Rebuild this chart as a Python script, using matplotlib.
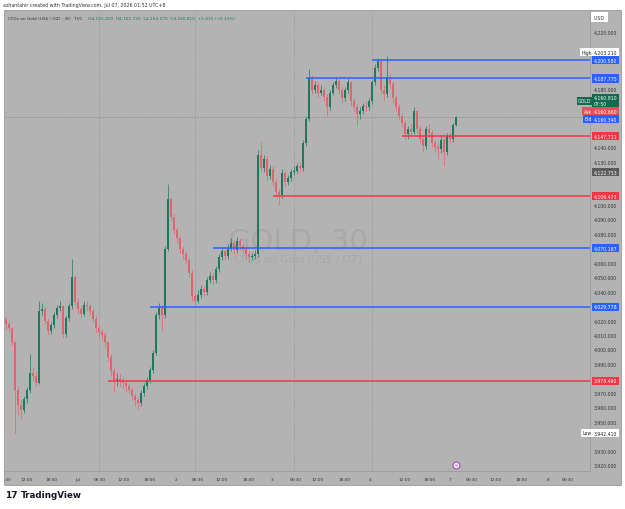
import numpy as np
import matplotlib.pyplot as plt
from matplotlib.patches import Rectangle

# GOLD 30 min candles
first_open = 4021
closes = [4018, 4015, 4005, 3972, 3962, 3958, 3966, 3972, 3984, 3982,
          3977, 4027, 4028, 4020, 4013, 4017, 4024, 4029, 4030, 4011,
          4022, 4030, 4050, 4033, 4028, 4025, 4031, 4030, 4027, 4021,
          4015, 4012, 4010, 4005, 3995, 3985, 3979, 3980, 3978, 3977,
          3975, 3972, 3968, 3965, 3963, 3970, 3975, 3979, 3986, 3998,
          4024, 4029, 4024, 4070, 4104, 4092, 4083, 4077, 4070, 4066,
          4062, 4053, 4037, 4034, 4038, 4042, 4040, 4048, 4051, 4048,
          4056, 4064, 4068, 4065, 4070, 4074, 4069, 4075, 4072, 4070,
          4066, 4064, 4065, 4066, 4135, 4126, 4132, 4120, 4125, 4116,
          4109, 4107, 4122, 4116, 4119, 4123, 4124, 4127, 4126, 4143,
          4160, 4188, 4180, 4183, 4178, 4180, 4175, 4168, 4178, 4183,
          4186, 4180, 4174, 4180, 4185, 4172, 4168, 4163, 4165, 4169,
          4168, 4172, 4185, 4195, 4200, 4180, 4177, 4189, 4184, 4174,
          4168, 4162, 4157, 4149, 4153, 4151, 4165, 4153, 4146, 4141,
          4153, 4150, 4143, 4140, 4139, 4145, 4137, 4148, 4146, 4155.4,
          4160.81]
highs = [4023, 4020, 4016, 4006, 3975, 3966, 3968, 3974, 3997, 3988,
         3985, 4034, 4032, 4030, 4022, 4019, 4026, 4031, 4034, 4031,
         4024, 4032, 4063, 4052, 4036, 4030, 4034, 4034, 4032, 4028,
         4023, 4017, 4014, 4012, 4006, 3997, 3987, 3984, 3983, 3981,
         3979, 3977, 3974, 3970, 3967, 3972, 3977, 3981, 3988, 4000,
         4026, 4032, 4031, 4072, 4115, 4106, 4094, 4085, 4079, 4072,
         4068, 4064, 4055, 4039, 4041, 4045, 4044, 4050, 4054, 4053,
         4058, 4066, 4071, 4070, 4073, 4077, 4076, 4078, 4077, 4074,
         4072, 4068, 4067, 4069, 4138, 4144, 4135, 4134, 4128, 4127,
         4118, 4111, 4125, 4124, 4121, 4125, 4127, 4129, 4130, 4145,
         4162, 4194, 4190, 4186, 4185, 4183, 4182, 4177, 4180, 4185,
         4188, 4188, 4182, 4182, 4188, 4186, 4174, 4170, 4168, 4171,
         4172, 4174, 4187, 4198, 4202, 4201, 4183, 4203.21, 4191, 4186,
         4176, 4170, 4164, 4159, 4155, 4156, 4168, 4166, 4155, 4148,
         4155, 4156, 4152, 4145, 4143, 4148, 4147, 4150, 4151, 4157,
         4161.72]
lows = [4014, 4012, 4003, 3942.41, 3955, 3952, 3956, 3963, 3970, 3978,
        3975, 3976, 4024, 4018, 4010, 4011, 4015, 4022, 4027, 4008,
        4009, 4020, 4028, 4031, 4025, 4022, 4023, 4027, 4024, 4019,
        4012, 4009, 4007, 4002, 3992, 3982, 3971, 3975, 3974, 3973,
        3971, 3969, 3965, 3961, 3959, 3961, 3968, 3973, 3977, 3984,
        3996, 4021, 4013, 4022, 4068, 4089, 4080, 4074, 4067, 4063,
        4059, 4050, 4034, 4031, 4032, 4036, 4037, 4038, 4046, 4045,
        4046, 4054, 4062, 4062, 4063, 4068, 4066, 4067, 4069, 4067,
        4063, 4061, 4062, 4063, 4064, 4123, 4123, 4117, 4118, 4113,
        4106, 4100, 4105, 4113, 4114, 4117, 4121, 4122, 4123, 4124,
        4141, 4158, 4177, 4178, 4175, 4176, 4172, 4162, 4166, 4176,
        4181, 4177, 4171, 4172, 4178, 4169, 4165, 4155, 4160, 4163,
        4165, 4166, 4170, 4183, 4193, 4177, 4172, 4175, 4181, 4171,
        4165, 4159, 4154, 4146, 4146, 4148, 4149, 4150, 4143, 4137,
        4139, 4147, 4140, 4137, 4132, 4136, 4127, 4135, 4143, 4144,
        4154.57]
opens = [first_open] + closes[:-1]

# horizontal levels drawn on the chart
level_prices = [4200.580, 4187.775, 4147.711, 4106.473, 4070.187, 4029.778, 3978.490]
level_start = [122, 100, 132, 89, 69, 48, 34]
level_kind = ['blue', 'blue', 'red', 'red', 'blue', 'blue', 'red']

# time axis
time_labels = [':30', '12:00', '18:00', 'Jul', '06:30', '12:00', '18:00', '2',
               '06:30', '12:00', '18:00', '3', '06:30', '12:00', '18:00', '4',
               '12:00', '18:00', '7', '06:30', '12:00', '18:00', '8', '06:30']
time_pos = [0.7, 7, 15.3, 24, 31.3, 39.3, 48, 56.7, 64, 72, 80.7, 88.7, 96.7,
            104, 112.7, 121.3, 133, 141.3, 148, 155.3, 163.3, 172, 180.7, 187.3]
session_breaks = [31, 63, 96, 122]

price_ticks = np.arange(3920, 4221, 10)
last_price = 4160.81

BG = '#b3b3b3'
UP = '#1b7a5c'
DN = '#e2636d'
BLUE = '#2962ff'
RED = '#f23645'
W, H = 625, 510

plt.rcParams['font.family'] = ['DejaVu Sans']
fig = plt.figure(figsize=(W / 100, H / 100), dpi=100)
fig.patch.set_facecolor('white')

# chart panel background (plot, price scale, time scale)
fig.patches.append(Rectangle((4 / W, 1 - 486 / H), 617 / W, 475 / H,
                             transform=fig.transFigure, fc=BG, ec='#9a9a9a', lw=0.6, zorder=-5))

ax = fig.add_axes([5 / W, 1 - 472 / H, 585 / W, 460 / H])
ax.set_facecolor(BG)
for s in ax.spines.values():
    s.set_visible(False)
for side in ['right', 'bottom']:
    ax.spines[side].set_visible(True)
    ax.spines[side].set_color('#9c9c9c')
    ax.spines[side].set_linewidth(0.6)

ax.set_xlim(-0.33, 194.67)
ax.set_ylim(3916.0, 4234.5)
ax.set_yticks([])
ax.set_xticks([])

# watermark
ax.text(0.5, 0.5, 'GOLD, 30', transform=ax.transAxes, ha='center', va='center',
        fontsize=21, color='#a8a8a8', zorder=1)
ax.text(0.5, 0.462, 'CFDs on Gold (US$ / OZ)', transform=ax.transAxes, ha='center',
        va='center', fontsize=7.5, color='#a8a8a8', zorder=1)

# session breaks and last price line
for b in session_breaks:
    ax.axvline(b, color='#8e8e8e', lw=0.5, ls=(0, (1.5, 2)), zorder=1)
ax.axhline(last_price, color='#7a7a7a', lw=0.5, ls=(0, (1.5, 2)), zorder=1)

# candles
idx = np.arange(len(closes))
o = np.array(opens, dtype=float)
c = np.array(closes, dtype=float)
hi = np.array(highs, dtype=float)
lo = np.array(lows, dtype=float)
colors = np.where(c >= o, UP, DN)
ax.vlines(idx, lo, hi, colors=colors, lw=0.5, zorder=3)
body = np.maximum(np.abs(c - o), 0.6)
ax.bar(idx, body, bottom=np.minimum(o, c), width=0.6, color=colors, lw=0, zorder=4)

# levels
xr = ax.get_xlim()[1]
for p, s, k in zip(level_prices, level_start, level_kind):
    ax.hlines(p, s, xr, color=BLUE if k == 'blue' else RED, lw=1.1, zorder=5)

ytr = ax.get_yaxis_transform()
units_per_pt = (4234.5 - 3916.0) / (460 * 0.72)
tag_spots = []


def tag(price, label, fc, tc='white', dy=0, side=None, side_fc=None, side_tc='white'):
    tag_spots.append(price + dy * units_per_pt)
    ax.annotate(label, xy=(1, price), xycoords=ytr, xytext=(2.6, dy),
                textcoords='offset points', ha='left', va='center', fontsize=3.3,
                color=tc, annotation_clip=False, zorder=10, linespacing=1.3,
                bbox=dict(boxstyle='square,pad=0.35', fc=fc, ec='none'))
    if side:
        ax.annotate(side, xy=(1, price), xycoords=ytr, xytext=(1.2, dy),
                    textcoords='offset points', ha='right', va='center', fontsize=3.3,
                    color=side_tc, annotation_clip=False, zorder=10,
                    bbox=dict(boxstyle='square,pad=0.35', fc=side_fc, ec='none'))


tag(4203.210, '4,203.210', 'white', tc='#222222', dy=3, side='High', side_fc='white', side_tc='#222222')
tag(4200.580, '4,200.580', BLUE)
tag(4187.775, '4,187.775', BLUE)
tag(last_price, '4,160.810\n07:50', '#136b4f', dy=12, side='GOLD', side_fc='#136b4f')
tag(4160.660, '4,160.660', '#e5505c', dy=4.5, side='Ask', side_fc='#e5505c')
tag(4160.340, '4,160.340', BLUE, dy=-0.5, side='Bid', side_fc=BLUE)
tag(4147.711, '4,147.711', RED)
tag(4122.753, '4,122.753', '#5b5b5b')
tag(4106.473, '4,106.473', RED)
tag(4070.187, '4,070.187', BLUE)
tag(4029.778, '4,029.778', BLUE)
tag(3978.490, '3,978.490', RED)
tag(3942.410, '3,942.410', 'white', tc='#222222', side='Low', side_fc='white', side_tc='#222222')
tag_spots.append(4172.0)  # second line of the GOLD tag

# price scale labels (hidden where a tag sits on them)
for t in price_ticks:
    if min(abs(t - s) for s in tag_spots) < 5.5:
        continue
    ax.text(1.0068, t, f'{t:,.3f}', transform=ytr, ha='left', va='center',
            fontsize=3.3, color='#333333', clip_on=False)

# currency box
fig.text(594 / W, 1 - 18 / H, 'USD ', ha='left', va='center', fontsize=3.4, color='#333333',
         bbox=dict(boxstyle='square,pad=0.6', fc='white', ec='none'))

# time axis labels
xtr = ax.get_xaxis_transform()
for lab, p in zip(time_labels, time_pos):
    ax.text(p, -0.017, lab, transform=xtr, ha='center', va='center', fontsize=3.1,
            color='#333333', clip_on=False)

# event marker near the time axis
ax.plot(150, 0.013, 'o', transform=xtr, ms=5, mfc='#f1e6ff', mec='#9c27b0', mew=0.6,
        clip_on=False, zorder=8)
ax.text(150, 0.013, 'ϟ', transform=xtr, ha='center', va='center', fontsize=3.2,
        color='#9c27b0', zorder=9)

# header texts
fig.text(3 / W, 1 - 5.5 / H, 'azhantahir created with TradingView.com, Jul 07, 2026 01:52 UTC+8',
         ha='left', va='center', fontsize=3.4, color='#333333')
fig.text(8 / W, 1 - 18.5 / H, 'CFDs on Gold (US$ / OZ) · 30 · TVC ', ha='left', va='center',
         fontsize=3.1, color='#333333')
fig.text(88 / W, 1 - 18.5 / H,
         'O4,155.400  H4,161.720  L4,154.570  C4,160.810  +5.410 (+0.13%)',
         ha='left', va='center', fontsize=3.1, color='#1b7a5c')

# footer logo
fig.text(5 / W, 1 - 496 / H, '17', ha='left', va='center', fontsize=6.5,
         fontweight='heavy', color='#131722')
fig.text(21 / W, 1 - 496 / H, 'TradingView', ha='left', va='center', fontsize=6.3,
         fontweight='bold', color='#131722')

fig.savefig('out.png', dpi=100, facecolor='white')
